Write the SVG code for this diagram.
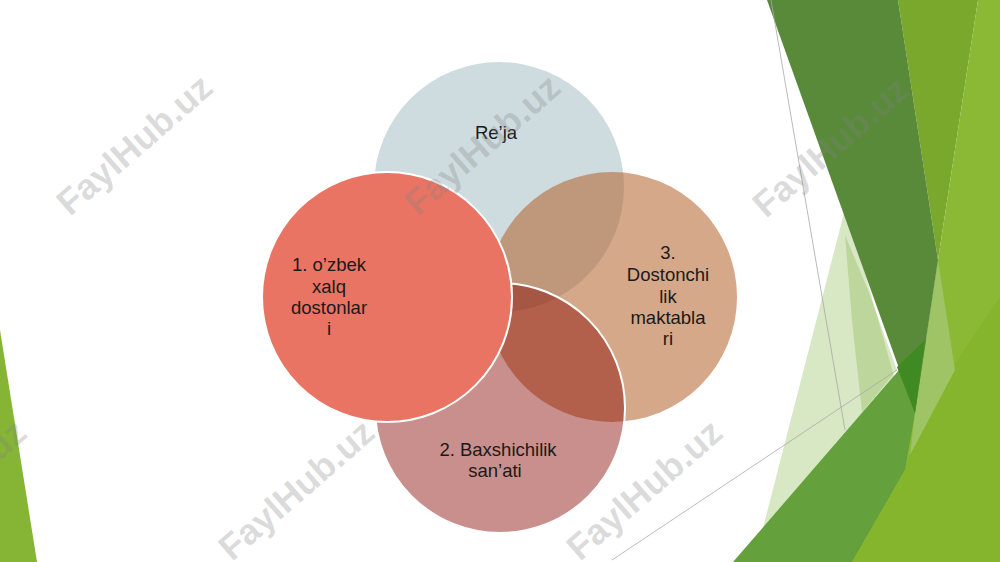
<svg xmlns="http://www.w3.org/2000/svg" width="1000" height="562" viewBox="0 0 1000 562">
<style>
.lbl{font-family:"Liberation Sans",Arial,sans-serif;font-size:18.5px;fill:#1a1a1a;text-anchor:middle}
.wm{font-family:"Liberation Sans",Arial,sans-serif;font-weight:bold;font-size:36px;fill:#808080;fill-opacity:0.28}
.thin{fill:none;stroke:#a8a8a8;stroke-width:0.8}
</style>
<rect width="1000" height="562" fill="#ffffff"/>
<g id="decor">
<polygon points="0,330 37,562 0,562" fill="#86b536"/>
<polygon points="846,205 895,380 840,450 762,532" fill="#7faf3c" fill-opacity="0.3"/>
<polygon points="845,235 868,290 897,370 862,412 852,320" fill="#7faf3c" fill-opacity="0.3"/>
<polygon points="733,562 925,340 940,330 940,562" fill="#64a03b"/>
<polygon points="898,0 978,0 938,260" fill="#79a82c"/>
<polygon points="978,0 1000,0 1000,562 852,562 905,470 915,413 938,260" fill="#8bb835"/>
<polygon points="1000,297 953,367 912,445 905,470 852,562 1000,562" fill="#85b52c"/>
<polygon points="938,260 955,370 910,455 915,413" fill="#9ec466"/>
<polygon points="767,0 898,0 938,260 915,413" fill="#588a3a"/>
<polygon points="897,367 925,340 915,413" fill="#3f8a22"/>
<line class="thin" x1="771" y1="0" x2="845" y2="430"/>
<line class="thin" x1="612" y1="560" x2="897" y2="370"/>
</g>
<g id="connectors"/>
<g id="node-reja">
<circle cx="499" cy="187" r="125" fill="#cedce0"/>
<text class="lbl" x="496" y="139">Re’ja</text>
</g>
<g id="node-3">
<circle cx="612" cy="297" r="125" fill="#b3612a" fill-opacity="0.55"/>
<text class="lbl" x="668" y="259">3.</text>
<text class="lbl" x="668" y="281">Dostonchi</text>
<text class="lbl" x="668" y="302.5">lik</text>
<text class="lbl" x="668" y="324">maktabla</text>
<text class="lbl" x="668" y="345">ri</text>
</g>
<g id="node-2">
<circle cx="500" cy="408" r="125" fill="#870700" fill-opacity="0.45" stroke="#ffffff" stroke-width="2"/>
<text class="lbl" x="498" y="456">2. Baxshichilik</text>
<text class="lbl" x="495" y="477">san’ati</text>
</g>
<g id="node-1">
<circle cx="387" cy="297" r="125" fill="#e97463" stroke="#ffffff" stroke-width="2"/>
<text class="lbl" x="329" y="271">1. o’zbek</text>
<text class="lbl" x="329" y="292.5">xalq</text>
<text class="lbl" x="329" y="314">dostonlar</text>
<text class="lbl" x="329" y="335">i</text>
</g>
<g id="watermarks">
<text class="wm" transform="translate(70,217) rotate(-41)">FaylHub.uz</text>
<text class="wm" transform="translate(418,217) rotate(-41)">FaylHub.uz</text>
<text class="wm" transform="translate(766,219) rotate(-41)">FaylHub.uz</text>
<text class="wm" transform="translate(-116,562) rotate(-41)">FaylHub.uz</text>
<text class="wm" transform="translate(232,562) rotate(-41)">FaylHub.uz</text>
<text class="wm" transform="translate(580,562) rotate(-41)">FaylHub.uz</text>
</g>
</svg>
